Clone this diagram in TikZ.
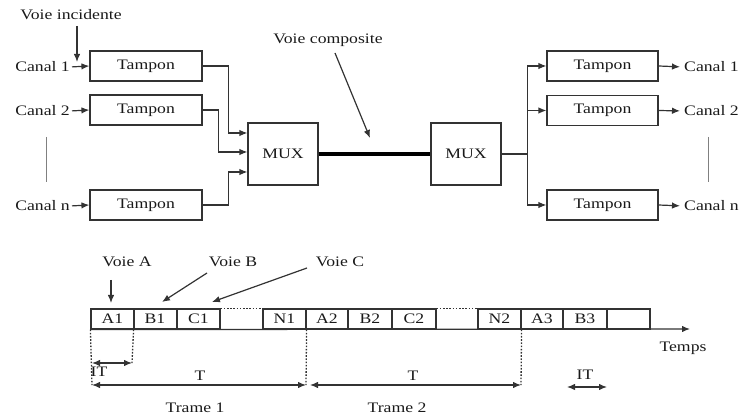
\documentclass[tikz,border=0pt]{standalone}
\usepackage{fontspec}
\setmainfont[FakeStretch=1.22]{Liberation Serif}
\usetikzlibrary{arrows.meta,calc}
\begin{document}
\begin{tikzpicture}[x=1pt,y=-1pt,
  every node/.style={font=\fontsize{14.5}{17}\selectfont, text=black!90, inner sep=0pt},
  ln/.style={draw=black!80, line width=1.2pt},
  arr/.style={ln, -{Latex[length=8pt,width=6.5pt]}},
  darr/.style={ln, {Latex[length=8pt,width=6.5pt]}-{Latex[length=8pt,width=6.5pt]}},
  tbox/.style={ln, minimum width=112pt, minimum height=30pt},
  mbox/.style={ln, minimum width=70pt, minimum height=62pt},
  cell/.style={ln, minimum width=43pt, minimum height=20pt},
  vdot/.style={draw=black!80, line width=1.3pt, dash pattern=on 1.6pt off 1.6pt},
  sep/.style={draw=black!50, line width=0.9pt}]
\useasboundingbox (0,0) rectangle (740,419);

% ---------- upper part ----------
\node (vi) at (71,15) {Voie incidente};
\coordinate (vit) at (77,26);
\coordinate (vib) at (77,62);

\node[tbox] (t1) at (146,66) {Tampon};
\node[tbox] (t2) at (146,110) {Tampon};
\node[tbox] (tn) at (146,205) {Tampon};

\node[anchor=east] (c1) at (70,67) {Canal 1};
\node[anchor=east] (c2) at (70,111) {Canal 2};
\node[anchor=east] (cn) at (70,206) {Canal n};

\draw[arr] (vit) -- (vib);
\draw[arr, shorten <=2pt] (c1.east) -- (t1.west);
\draw[arr, shorten <=2pt] (c2.east) -- (t2.west);
\draw[arr, shorten <=2pt] (cn.east) -- (tn.west);

\coordinate (l1) at (46,137);
\coordinate (l2) at (46,182);
\draw[sep] (l1) -- (l2);

\node[mbox] (m1) at (283,154) {MUX};
\node[mbox] (m2) at (466,154) {MUX};

\draw[arr] (t1.east) -- ++(26,0) |- ([yshift=21pt]m1.west);
\draw[arr] (t2.east) -- ++(16,0) |- ([yshift=2pt]m1.west);
\draw[arr] (tn.east) -- ++(26,0) |- ([yshift=-18pt]m1.west);

\draw[draw=black, line width=4.5pt] (m1.east) -- (m2.west);

\node (vc) at (328,40) {Voie composite};
\coordinate (vc1) at (335,53);
\coordinate (vc2) at (370,138);
\draw[arr] (vc1) -- (vc2);

\node[tbox, minimum width=111pt] (r1) at (602.5,66) {Tampon};
\node[tbox, minimum width=111pt] (r2) at (602.5,110.5) {Tampon};
\node[tbox, minimum width=111pt] (rn) at (602.5,205) {Tampon};

\draw[ln] (m2.east) -- ++(26,0) coordinate (j);
\draw[arr] (j) |- (r1.west);
\draw[arr] (j) |- (r2.west);
\draw[arr] (j) |- (rn.west);

\node[anchor=west] (d1) at (684,67) {Canal 1};
\node[anchor=west] (d2) at (684,111) {Canal 2};
\node[anchor=west] (dn) at (684,206) {Canal n};
\draw[arr, shorten >=4pt] (r1.east) -- (d1.west);
\draw[arr, shorten >=4pt] (r2.east) -- (d2.west);
\draw[arr, shorten >=4pt] (rn.east) -- (dn.west);

\coordinate (rl1) at (708,137);
\coordinate (rl2) at (708,182);
\draw[sep] (rl1) -- (rl2);

% ---------- timeline ----------
\node[cell] (a1) at (112.5,319) {A1};
\node[cell] (b1) at (155,319) {B1};
\node[cell] (k1) at (198.5,319) {C1};
\node[cell] (n1) at (284.5,319) {N1};
\node[cell, minimum width=42pt] (a2) at (327,319) {A2};
\node[cell, minimum width=44pt] (b2) at (370,319) {B2};
\node[cell, minimum width=44pt] (k2) at (414,319) {C2};
\node[cell] (n2) at (499.5,319) {N2};
\node[cell, minimum width=42pt] (a3) at (542,319) {A3};
\node[cell, minimum width=44pt] (b3) at (585,319) {B3};
\node[cell] (e3) at (628.5,319) {};

\draw[vdot] (k1.north east) -- (n1.north west);
\draw[vdot] (k1.south east) -- (n1.south west);
\draw[vdot] (k2.north east) -- (n2.north west);
\draw[vdot] (k2.south east) -- (n2.south west);

\coordinate (tend) at (690,329);
\draw[arr] (a1.south west) -- (tend);
\node (tp) at (683,348) {Temps};

\node (va) at (127,262) {Voie A};
\node (vb) at (233,262) {Voie B};
\node (vcc) at (340,262) {Voie C};
\coordinate (va1) at (111,280);
\coordinate (va2) at (111,303);
\coordinate (vb1) at (207,273);
\coordinate (vb2) at (162,302);
\coordinate (vc3) at (307,268);
\coordinate (vc4) at (212,302);
\draw[arr] (va1) -- (va2);
\draw[arr] (vb1) -- (vb2);
\draw[arr] (vc3) -- (vc4);

% dotted verticals and durations
\coordinate (p0) at (92,385);
\coordinate (p1) at (132,363);
\coordinate (p0b) at (92,363);
\coordinate (p2) at (306,385);
\coordinate (p2b) at (310,385);
\coordinate (p3) at (521,385);
\draw[vdot] (a1.south west) -- (p0);
\draw[vdot] ([xshift=-1pt]a1.south east) -- (p1);
\draw[vdot] (n1.south east) -- (p2);
\draw[vdot] (n2.south east) -- (p3);

\draw[darr] (p0b) -- (p1);
\draw[darr] (p0) -- (p2);
\draw[darr] (p2b) -- (p3);

\coordinate (q1) at (567,387);
\coordinate (q2) at (607,387);
\draw[darr] (q1) -- (q2);

\node (it1) at (99,372) {IT};
\node (tt1) at (200,376) {T};
\node (tt2) at (413,376) {T};
\node (it2) at (585,375) {IT};
\node (tr1) at (195,408) {Trame 1};
\node (tr2) at (397,408) {Trame 2};
\end{tikzpicture}
\end{document}
